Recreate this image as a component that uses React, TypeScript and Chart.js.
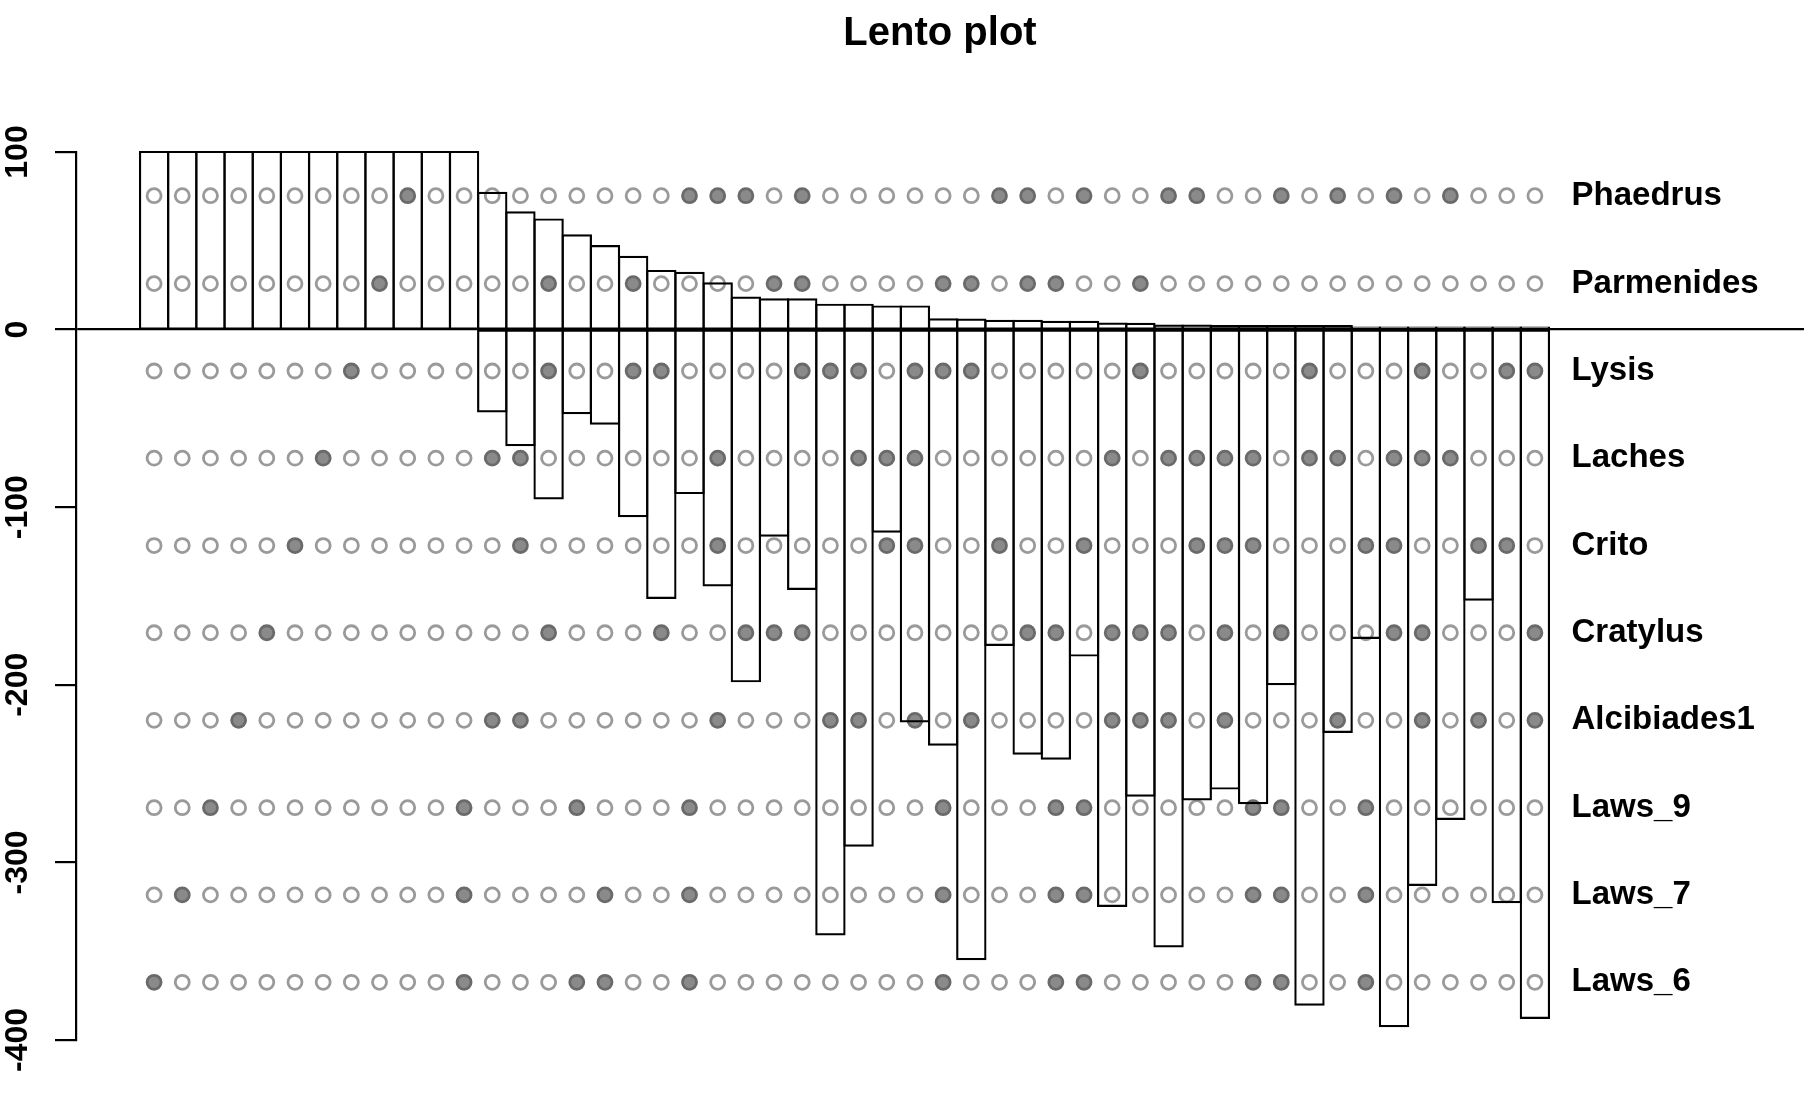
import React, { useEffect, useRef } from 'react';
import Chart from 'chart.js/auto';

// ---- data ----
const taxa = ['Phaedrus', 'Parmenides', 'Lysis', 'Laches', 'Crito', 'Cratylus', 'Alcibiades1', 'Laws_9', 'Laws_7', 'Laws_6'];
const taxonRowY = [75.4, 25.9, -23.3, -72.4, -121.6, -170.7, -220.0, -269.2, -318.3, -367.5];

const splitIds = Array.from({ length: 50 }, (_, i) => i);

const support = [
  100, 100, 100, 100, 100, 100, 100, 100, 100, 100, 100, 100,
  77, 66, 62, 53, 47, 41, 33, 32, 26, 18,
  17, 17, 14, 14, 13, 13,
  5.8, 5.6, 4.9, 4.9, 4.3, 4.3, 3.4, 3.2,
  2.2, 2.2, 2, 2, 2, 2, 2,
  1.1, 1.1, 1.1, 1.1, 1.1, 1.1, 1.1,
];

const conflict = [
  0, 0, 0, 0, 0, 0, 0, 0, 0, 0, 0, 0,
  -46, -65, -95, -47, -53, -105, -151, -92, -144, -198,
  -116, -146, -340.5, -290.6, -113.7, -220.6, -233.7, -354.5, -177.5, -238.8,
  -241.6, -183.5, -324.5, -262.4, -347.3, -264.5, -258.4, -266.6, -199.6, -380.1,
  -226.5, -173.6, -392.2, -312.6, -275.5, -152, -322.4, -387.5,
];

// splits (column indices) in which each taxon is on the marked side
const phaedrusIn = [9, 19, 20, 21, 23, 30, 31, 33, 36, 37, 40, 42, 44, 46];
const parmenidesIn = [8, 14, 17, 22, 23, 28, 29, 31, 32, 35];
const lysisIn = [7, 14, 17, 18, 23, 24, 25, 27, 28, 29, 35, 41, 45, 48, 49];
const lachesIn = [6, 12, 13, 20, 25, 26, 27, 34, 36, 37, 38, 39, 41, 42, 44, 45, 46];
const critoIn = [5, 13, 20, 26, 27, 30, 33, 37, 38, 39, 43, 44, 47, 48];
const cratylusIn = [4, 14, 18, 21, 22, 23, 31, 32, 34, 35, 36, 38, 40, 44, 45, 49];
const alcibiades1In = [3, 12, 13, 20, 24, 25, 27, 29, 34, 35, 36, 38, 42, 45, 47, 49];
const laws9In = [2, 11, 15, 19, 28, 32, 33, 39, 40, 43];
const laws7In = [1, 11, 16, 19, 28, 32, 33, 39, 40, 43];
const laws6In = [0, 11, 15, 16, 19, 28, 32, 33, 39, 40, 43];

const membership = [phaedrusIn, parmenidesIn, lysisIn, lachesIn, critoIn, cratylusIn, alcibiades1In, laws9In, laws7In, laws6In];

const yTicks = [100, 0, -100, -200, -300, -400];

// ---- styling ----
const FONT = "'Liberation Sans', Arial, Helvetica, sans-serif";
const FILL_ON = '#8a8a8a';
const EDGE_ON = '#6a6a6a';
const EDGE_OFF = '#9a9a9a';
const LABEL_X = 50.3;

const rowLabelsPlugin = {
  id: 'rowLabels',
  afterDraw(chart: any) {
    const { ctx, scales } = chart;
    ctx.save();
    ctx.font = `bold 33px ${FONT}`;
    ctx.fillStyle = '#000';
    ctx.textAlign = 'left';
    ctx.textBaseline = 'middle';
    taxa.forEach((name, t) => {
      ctx.fillText(name, scales.x.getPixelForValue(LABEL_X), scales.y.getPixelForValue(taxonRowY[t]));
    });
    ctx.restore();
  },
};

export default function App() {
  const ref = useRef<HTMLCanvasElement | null>(null);

  useEffect(() => {
    if (!ref.current) return;
    Chart.defaults.font.family = FONT;

    const barCommon = {
      type: 'bar' as const,
      grouped: false,
      barPercentage: 1,
      categoryPercentage: 1,
      backgroundColor: 'rgba(0,0,0,0)',
      borderColor: '#000',
      borderWidth: 0.01,
      inflateAmount: 1.1,
      borderSkipped: false,
      order: 0,
      clip: false,
    };

    const dotSets = taxa.map((name, t) => {
      const on = splitIds.map((i) => membership[t].includes(i));
      return {
        type: 'scatter' as const,
        label: name,
        data: splitIds.map((i) => ({ x: i, y: taxonRowY[t] })),
        pointRadius: 7,
        pointHoverRadius: 7,
        pointBorderWidth: 2.8,
        pointBackgroundColor: on.map((v) => (v ? FILL_ON : 'rgba(255,255,255,0)')),
        pointBorderColor: on.map((v) => (v ? EDGE_ON : EDGE_OFF)),
        showLine: false,
        order: 1,
        clip: false,
      };
    });

    const chart = new Chart(ref.current, {
      type: 'bar',
      data: {
        datasets: [
          { ...barCommon, label: 'support', data: splitIds.map((i) => ({ x: i, y: support[i] })) },
          { ...barCommon, label: 'conflict', data: splitIds.map((i) => ({ x: i, y: conflict[i] })) },
          ...dotSets,
        ] as any,
      },
      options: {
        responsive: false,
        maintainAspectRatio: false,
        animation: false,
        events: [],
        layout: { autoPadding: false, padding: { left: 0, right: 0, top: 0, bottom: 60 } },
        plugins: {
          legend: { display: false },
          tooltip: { enabled: false },
          title: {
            display: true,
            text: 'Lento plot',
            color: '#000',
            fullSize: false,
            font: { family: FONT, size: 40, weight: 'bold', lineHeight: 1.2 },
            padding: { top: 10, bottom: 94 },
          },
        },
        scales: {
          x: {
            type: 'linear',
            display: false,
            offset: false,
            min: -2.771,
            max: 58.549,
            ticks: { stepSize: 10 },
          },
          y: {
            type: 'linear',
            min: -400,
            max: 100,
            afterFit: (s: any) => {
              s.width = 76;
            },
            afterBuildTicks: (s: any) => {
              s.ticks = yTicks.map((v) => ({ value: v }));
            },
            ticks: {
              stepSize: 100,
              minRotation: 90,
              maxRotation: 90,
              crossAlign: 'center',
              padding: 5,
              color: '#000',
              font: { family: FONT, size: 32, weight: 'bold' },
            },
            grid: {
              color: (c: any) => (c.tick && c.tick.value === 0 ? '#000' : 'rgba(0,0,0,0)'),
              lineWidth: 2.2,
              drawTicks: true,
              tickLength: 21,
              tickColor: '#000',
              tickWidth: 2.2,
            },
            border: { display: true, color: '#000', width: 2.2 },
          },
        },
      } as any,
      plugins: [rowLabelsPlugin],
    });

    return () => chart.destroy();
  }, []);

  return (
    <div style={{ position: 'fixed', left: 0, top: 0, width: 1804, height: 1100, background: '#fff' }}>
      <canvas ref={ref} width={1804} height={1100} style={{ display: 'block', width: 1804, height: 1100 }} />
    </div>
  );
}
